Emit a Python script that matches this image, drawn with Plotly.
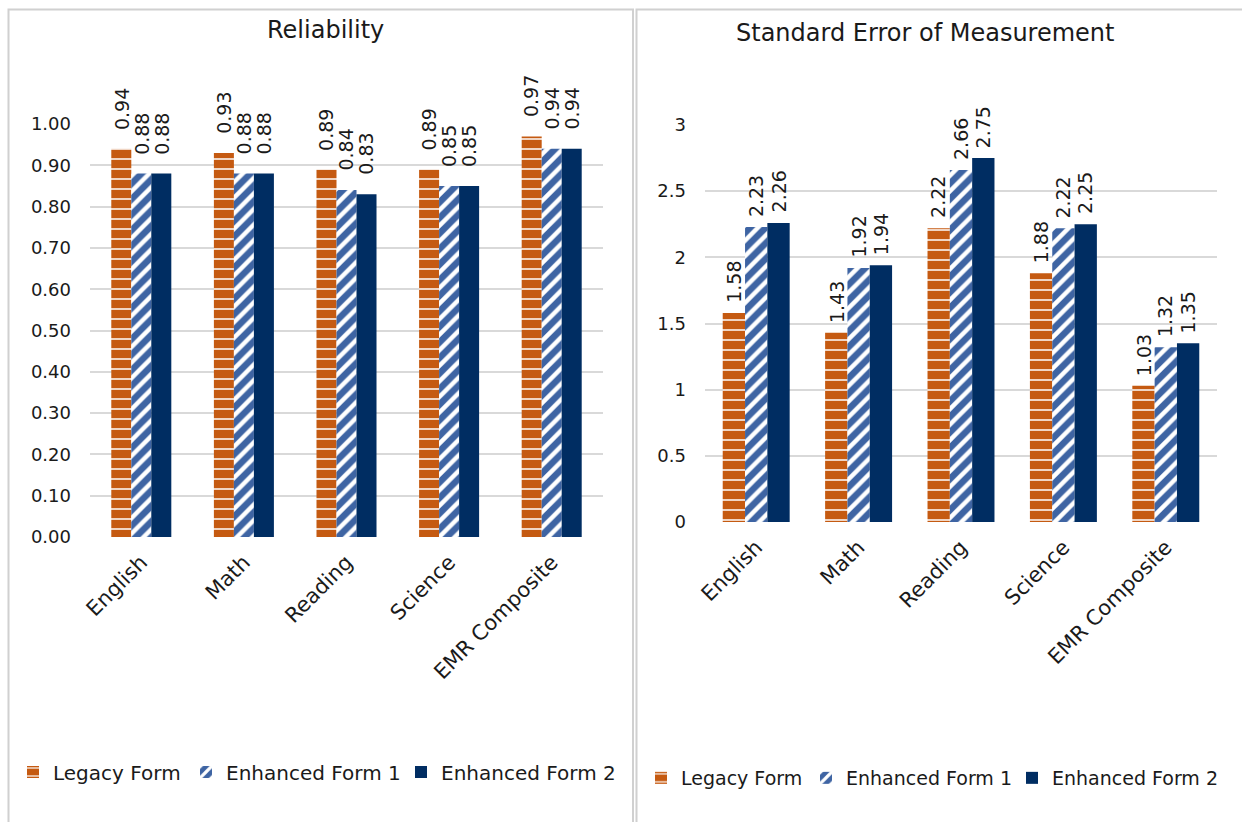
import plotly.graph_objects as go

categories = ["English", "Math", "Reading", "Science", "EMR Composite"]
series_names = ["Legacy Form", "Enhanced Form 1", "Enhanced Form 2"]

reliability_legacy = [0.94, 0.93, 0.89, 0.89, 0.97]
reliability_enh1 = [0.88, 0.88, 0.84, 0.85, 0.94]
reliability_enh2 = [0.88, 0.88, 0.83, 0.85, 0.94]

sem_legacy = [1.58, 1.43, 2.22, 1.88, 1.03]
sem_enh1 = [2.23, 1.92, 2.66, 2.22, 1.32]
sem_enh2 = [2.26, 1.94, 2.75, 2.25, 1.35]

rel_ticks = [0.0, 0.1, 0.2, 0.3, 0.4, 0.5, 0.6, 0.7, 0.8, 0.9, 1.0]
sem_ticks = [0, 0.5, 1, 1.5, 2, 2.5, 3]

W, H = 1242, 822
FONT = "DejaVu Sans"
TXT = "#1a1a1a"
GRID = "#d9d9d9"

ORANGE = "#C55A11"
BLUE = "#3E64A3"
NAVY = "#002D62"

styles = [
    dict(color=ORANGE, pattern=dict(shape="-", fgcolor="white", bgcolor=ORANGE, fillmode="replace",
                                    fgopacity=1, size=10, solidity=0.15)),
    dict(color=BLUE, pattern=dict(shape="/", fgcolor="white", bgcolor=BLUE, fillmode="replace",
                                  fgopacity=1, size=11, solidity=0.4)),
    dict(color=NAVY),
]


def px_x(p):
    return p / W


def px_y(p):
    return 1 - p / H


# plot-area extents in pixels
LEFT_DOM = (90, 603)
RIGHT_DOM = (705, 1217)

fig = go.Figure()

# each panel: axes, series, bar width (category units), domain, label gap,
# legend row y, left edge of each legend entry, legend font size
panels = [
    dict(xa="x", ya="y", data=[reliability_legacy, reliability_enh1, reliability_enh2],
         bw=0.195, dom=LEFT_DOM, gap=17, leg_y=772, leg_x=[13, 186, 401], leg_ids=[1, 2, 3],
         leg_size=20),
    dict(xa="x2", ya="y2", data=[sem_legacy, sem_enh1, sem_enh2],
         bw=0.218, dom=RIGHT_DOM, gap=8, leg_y=778, leg_x=[641, 806, 1012], leg_ids=[4, 5, 6],
         leg_size=19),
]

legends = {}
for p in panels:
    bw, dom = p["bw"], p["dom"]
    cat_px = (dom[1] - dom[0]) / len(categories)
    for i, (name, vals, st) in enumerate(zip(series_names, p["data"], styles)):
        lid = p["leg_ids"][i]
        lname = "legend" if lid == 1 else f"legend{lid}"
        legends[lname] = dict(
            orientation="h", x=px_x(p["leg_x"][i]), xanchor="left",
            y=px_y(p["leg_y"]), yanchor="middle", itemwidth=30,
            font=dict(family=FONT, size=p["leg_size"], color=TXT), bgcolor="rgba(0,0,0,0)",
        )
        fig.add_trace(go.Bar(
            x=categories, y=vals, name=name, xaxis=p["xa"], yaxis=p["ya"], legend=lname,
            width=bw, offset=-1.5 * bw + i * bw,
            marker=dict(line=dict(width=0), **st),
        ))
        # value labels, rotated, sitting above each bar
        for cat, v in zip(categories, vals):
            fig.add_annotation(
                x=cat, y=v, xref=p["xa"], yref=p["ya"], text=f"{v:.2f}", textangle=-90,
                xanchor="center", yanchor="bottom", showarrow=False,
                xshift=(i - 1) * bw * cat_px, yshift=p["gap"],
                font=dict(family=FONT, size=19, color=TXT),
            )

axis_common = dict(showline=False, zeroline=False, ticks="", automargin=False)

fig.update_layout(
    width=W, height=H,
    margin=dict(l=0, r=0, t=0, b=0, autoexpand=False),
    paper_bgcolor="white", plot_bgcolor="white",
    barmode="group",
    font=dict(family=FONT, color=TXT),
    xaxis=dict(domain=[px_x(LEFT_DOM[0]), px_x(LEFT_DOM[1])], anchor="y", tickangle=-45,
               showgrid=False, ticklabelstandoff=8,
               tickfont=dict(family=FONT, size=21, color=TXT), **axis_common),
    yaxis=dict(domain=[px_y(537), px_y(124)], anchor="x", range=[0, 1.0],
               tickvals=rel_ticks, tickformat=".2f", showgrid=True,
               gridcolor=GRID, gridwidth=1.5, ticklabelstandoff=18,
               tickfont=dict(family=FONT, size=18, color=TXT), **axis_common),
    xaxis2=dict(domain=[px_x(RIGHT_DOM[0]), px_x(RIGHT_DOM[1])], anchor="y2", tickangle=-45,
                showgrid=False, ticklabelstandoff=8,
                tickfont=dict(family=FONT, size=21, color=TXT), **axis_common),
    yaxis2=dict(domain=[px_y(522), px_y(125)], anchor="x2", range=[0, 3],
                tickvals=sem_ticks, showgrid=True,
                gridcolor=GRID, gridwidth=1.5, ticklabelstandoff=18,
                tickfont=dict(family=FONT, size=18, color=TXT), **axis_common),
    showlegend=True,
    **legends,
)

# Panel frames
fig.add_shape(type="rect", xref="paper", yref="paper",
              x0=px_x(8.5), x1=px_x(633), y0=px_y(830), y1=px_y(9.5),
              line=dict(color="#d0d0d0", width=2), fillcolor="rgba(0,0,0,0)", layer="below")
fig.add_shape(type="rect", xref="paper", yref="paper",
              x0=px_x(636.5), x1=px_x(1250), y0=px_y(830), y1=px_y(9.5),
              line=dict(color="#d0d0d0", width=2), fillcolor="rgba(0,0,0,0)", layer="below")

# Panel titles
fig.add_annotation(text="Reliability", xref="paper", yref="paper",
                   x=px_x(325), y=px_y(30), xanchor="center", yanchor="middle", showarrow=False,
                   font=dict(family=FONT, size=24, color=TXT))
fig.add_annotation(text="Standard Error of Measurement", xref="paper", yref="paper",
                   x=px_x(925), y=px_y(33), xanchor="center", yanchor="middle", showarrow=False,
                   font=dict(family=FONT, size=24, color=TXT))

fig.write_html("out.html")
